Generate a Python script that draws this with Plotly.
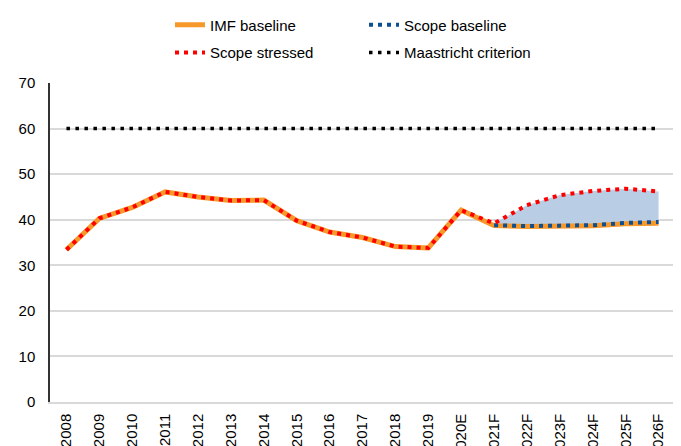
import plotly.graph_objects as go

# data
years = ['2008', '2009', '2010', '2011', '2012', '2013', '2014', '2015', '2016', '2017',
         '2018', '2019', '2020E', '2021F', '2022F', '2023F', '2024F', '2025F', '2026F']
imf_baseline = [33.4, 40.3, 42.7, 46.1, 45.0, 44.2, 44.3, 39.8, 37.3, 36.1,
                34.1, 33.8, 42.1, 38.7, 38.5, 38.6, 38.7, 39.1, 39.2]
scope_baseline = [None] * 13 + [38.8, 38.6, 38.7, 38.8, 39.3, 39.5]
scope_stressed = [33.4, 40.3, 42.7, 46.1, 45.0, 44.2, 44.3, 39.8, 37.3, 36.1,
                  34.1, 33.8, 42.1, 39.2, 43.2, 45.4, 46.3, 46.8, 46.2]
maastricht = [60] * len(years)

FONT = dict(family='Liberation Sans, Arial, sans-serif', size=15, color='#000000')

fig = go.Figure()

# shaded band between the scope baseline and the stressed path
fig.add_trace(go.Scatter(x=years[13:], y=scope_baseline[13:], mode='lines',
                         line=dict(width=0), showlegend=False, hoverinfo='skip'))
fig.add_trace(go.Scatter(x=years[13:], y=scope_stressed[13:], mode='lines',
                         line=dict(width=0), fill='tonexty', fillcolor='#b9cde4',
                         showlegend=False, hoverinfo='skip'))

fig.add_trace(go.Scatter(x=years, y=imf_baseline, mode='lines', name='IMF baseline',
                         line=dict(color='#f7982a', width=5), legend='legend'))
fig.add_trace(go.Scatter(x=years, y=scope_baseline, mode='lines', name='Scope baseline',
                         line=dict(color='#0d4f93', width=4, dash='4px,5px'), legend='legend'))
fig.add_trace(go.Scatter(x=years, y=scope_stressed, mode='lines', name='Scope stressed',
                         line=dict(color='#ff0000', width=4, dash='4px,5px'), legend='legend2'))
fig.add_trace(go.Scatter(x=years, y=maastricht, mode='lines', name='Maastricht criterion',
                         line=dict(color='#000000', width=3.5, dash='3.5px,5.5px'), legend='legend2'))

# the page puts the figure 8px in from the top-left corner
legend_style = dict(orientation='h', xref='container', yref='container', x=0.2407,
                    xanchor='left', yanchor='middle', entrywidth=149, font=FONT,
                    bgcolor='rgba(0,0,0,0)', traceorder='normal')

fig.update_layout(
    width=673, height=438, autosize=False,
    margin=dict(l=42, r=6, t=75, b=44),
    plot_bgcolor='white', paper_bgcolor='white',
    font=FONT,
    legend=dict(legend_style, y=0.961),
    legend2=dict(legend_style, y=0.898),
    xaxis=dict(type='category', categoryorder='array', categoryarray=years,
               range=[-0.5, len(years) - 0.5],
               tickangle=-90, showgrid=False, showline=True,
               linecolor='#d9d9d9', linewidth=1.5, ticks='', tickfont=FONT,
               ticklabelstandoff=4, automargin=False),
    yaxis=dict(range=[0, 70], dtick=10, showgrid=True, gridcolor='#d9d9d9', gridwidth=1.5,
               showline=True, linecolor='#333333', linewidth=1.5, zeroline=False,
               ticks='', tickfont=FONT, ticklabelstandoff=10, automargin=False),
)

fig.write_html("out.html")
